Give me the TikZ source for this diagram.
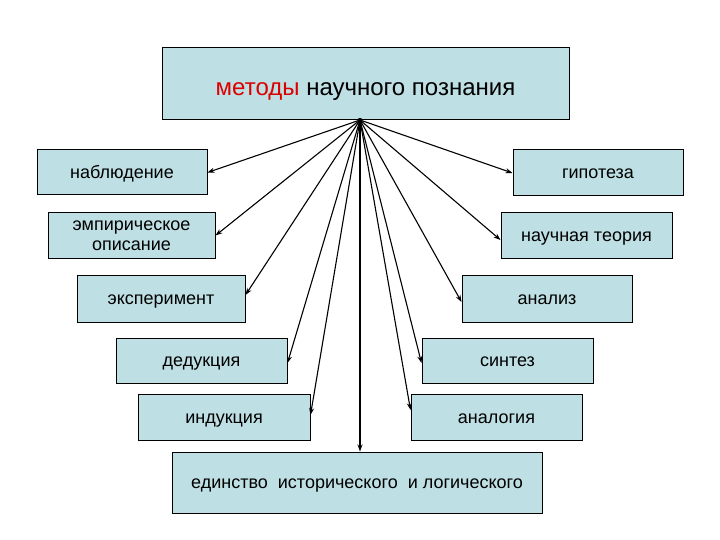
\documentclass[tikz,border=0pt]{standalone}
\usepackage{fontspec}
\setmainfont{Liberation Sans}
\usetikzlibrary{arrows.meta}
\definecolor{boxfill}{RGB}{190,223,227}
\definecolor{redtxt}{RGB}{220,0,0}
\tikzset{
  box/.style={draw=black, line width=1pt, fill=boxfill, inner sep=2pt, align=center,
    font=\fontsize{18}{20}\selectfont},
  onel/.style={box, text height=14pt, text depth=2pt},
  conn/.style={line width=1.1pt, -{Stealth[length=7pt,width=5pt]}}
}
\begin{document}
\begin{tikzpicture}[x=1pt,y=-1pt]
\useasboundingbox (0,0) rectangle (720,540);
\node[box, minimum width=407pt, minimum height=72pt] (top) at (365.5,84) {};
\node[font=\fontsize{24}{26}\selectfont, inner sep=0pt] (toptxt) at (365.5,92)
  {\textcolor{redtxt}{методы} научного познания};
\coordinate (src) at (360,120);
\node[onel, minimum width=170pt, minimum height=45pt] (nab) at (122,172.5) {наблюдение};
\node[onel, minimum width=170pt, minimum height=46pt] (gip) at (598,173) {гипотеза};
\node[box, minimum width=167pt, minimum height=45pt] (emp) at (131.5,235.5) {эмпирическое\\описание};
\node[onel, minimum width=171pt, minimum height=45pt] (nt) at (586.5,235.5) {научная теория};
\node[onel, minimum width=168pt, minimum height=47pt] (eks) at (161,298.5) {эксперимент};
\node[onel, minimum width=170pt, minimum height=47pt] (an) at (547,298.5) {анализ};
\node[onel, minimum width=171pt, minimum height=45pt] (ded) at (201.5,360.5) {дедукция};
\node[onel, minimum width=171pt, minimum height=45pt] (sin) at (507.5,360.5) {синтез};
\node[onel, minimum width=172pt, minimum height=46pt] (ind) at (224,417) {индукция};
\node[onel, minimum width=171pt, minimum height=46pt] (anl) at (496.5,417) {аналогия};
\node[onel, minimum width=370pt, minimum height=61pt] (ed) at (357,482.5) {единство\ \ исторического\ \ и логического};
\draw[conn] (src) -- (nab.east);
\draw[conn] (src) -- (emp.east);
\draw[conn] (src) -- ([yshift=3.5pt]eks.east);
\draw[conn] (src) -- ([yshift=-2.5pt]ded.east);
\draw[conn] (src) -- ([yshift=2pt]ind.east);
\draw[conn] (src) -- ([xshift=3pt]ed.north);
\draw[conn] (src) -- ([yshift=7pt]anl.west);
\draw[conn] (src) -- ([yshift=-2.5pt]sin.west);
\draw[conn] (src) -- ([yshift=-3.5pt]an.west);
\draw[conn] (src) -- ([yshift=-4.5pt]nt.west);
\draw[conn] (src) -- (gip.west);
\fill (src) circle (2.2pt);
\end{tikzpicture}
\end{document}
